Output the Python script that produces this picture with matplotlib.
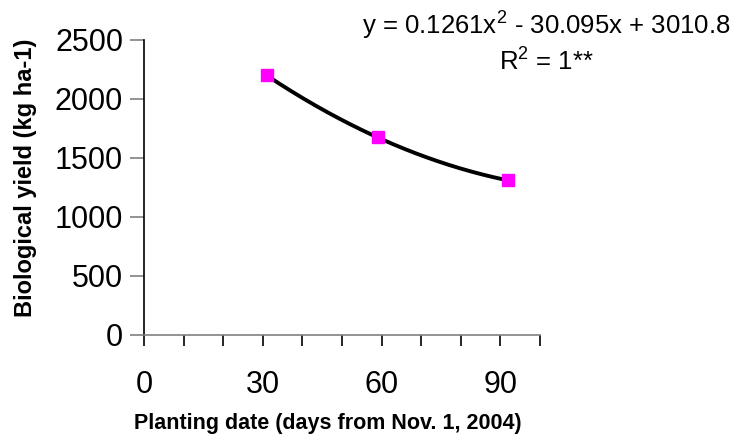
import matplotlib
matplotlib.use("Agg")
import matplotlib.pyplot as plt
import numpy as np

plt.rcParams['font.family'] = ['Liberation Sans', 'DejaVu Sans']
plt.rcParams['mathtext.fontset'] = 'custom'
plt.rcParams['mathtext.rm'] = 'Liberation Sans'

# planting date (days from Nov. 1, 2004) and biological yield
days = [31, 59, 92]
yield_kg = [2200, 1675, 1315]

# quadratic trendline shown on the chart
coef = [0.1261, -30.095, 3010.8]

fig = plt.figure(figsize=(7.36, 4.41), dpi=100)
ax = fig.add_axes([0.1957, 0.2404, 0.538, 0.669])

xs = np.linspace(min(days), max(days), 200)
ax.plot(xs, np.polyval(coef, xs), color='black', lw=2.8, zorder=2)
ax.plot(days, yield_kg, 's', color='#ff00ff', ms=8, zorder=3)

ax.set_xlim(0, 100)
ax.set_ylim(0, 2500)
ax.set_xticks(range(0, 101, 10))
ax.set_xticklabels(['0' if v == 0 else (str(v) if v in (30, 60, 90) else '')
                    for v in range(0, 101, 10)])
ax.set_yticks(range(0, 2501, 500))

for s in ['top', 'right']:
    ax.spines[s].set_visible(False)
ax.spines['bottom'].set_color('#808080')
ax.spines['bottom'].set_linewidth(1.2)
ax.spines['left'].set_linewidth(1.2)

ax.tick_params(axis='x', direction='out', length=8, width=1.2, pad=17,
               labelsize=22, color='black')
ax.tick_params(axis='y', direction='out', length=10, width=1.2, pad=5,
               labelsize=22, color='#808080')

ax.set_xlabel('Planting date (days from Nov. 1, 2004)', fontsize=15.5,
              fontweight='bold')
ax.xaxis.set_label_coords(0.463, -0.265)
ax.set_ylabel('Biological yield (kg ha-1)', fontsize=17,
              fontweight='bold')
ax.yaxis.set_label_coords(-0.27, 0.532)

fig.text(0.7425, 0.944, 'y = 0.1261x$^{2}$ - 30.095x + 3010.8', fontsize=18.5,
         ha='center', va='center')
fig.text(0.7425, 0.862, 'R$^{2}$ = 1**', fontsize=18.5, ha='center', va='center')

fig.savefig('out.png', dpi=100)
